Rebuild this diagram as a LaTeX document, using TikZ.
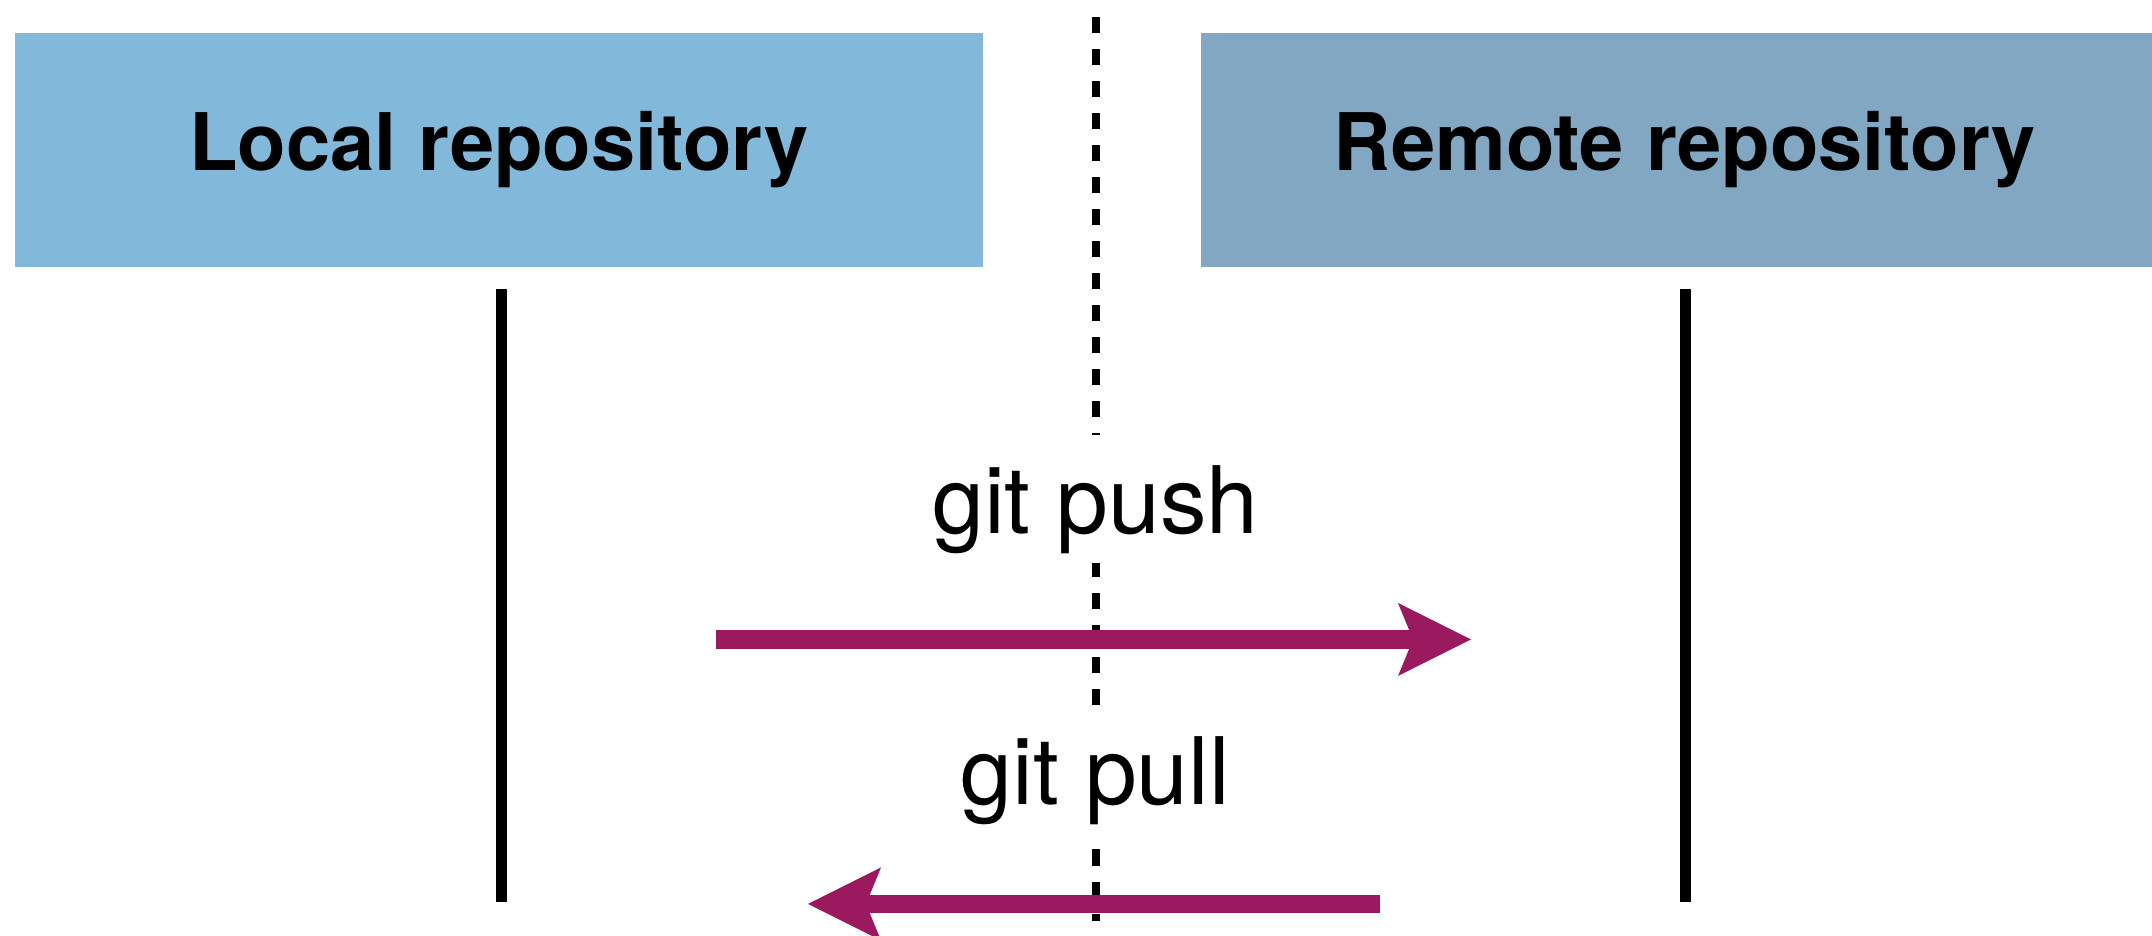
\documentclass[tikz,border=0pt]{standalone}
\usepackage{fontspec}
\setmainfont{TeX Gyre Heros}
\usetikzlibrary{arrows.meta}
\definecolor{localblue}{RGB}{130,185,219}
\definecolor{remoteblue}{RGB}{129,167,194}
\definecolor{gitmagenta}{RGB}{155,25,94}

\begin{document}
\begin{tikzpicture}[repo/.style={fill=#1, minimum width=9.68cm, minimum height=2.34cm, inner sep=0pt, font=\fontsize{22.6}{27}\selectfont\bfseries},
    lifeline/.style={line width=0.11cm},
    cmd/.style={fill=white, anchor=base, inner xsep=0.2cm, inner ysep=0pt, text height=0.99cm, text depth=0.29cm, font=\fontsize{26.5}{30}\selectfont},
    msg/.style={gitmagenta, line width=0.185cm, -{Stealth[length=0.73cm, width=0.73cm, inset=0.15cm, line width=0pt]}}]
    \useasboundingbox (0,0) rectangle (21.52,9.36);
    \clip (0,0) rectangle (21.52,9.36);

    \node[repo=localblue] (local) at (4.99,7.86) {Local repository};
    \node[repo=remoteblue] (remote) at (16.85,7.86) {Remote repository};

    \coordinate (localtop) at (5.01,6.47);
    \coordinate (localbot) at (5.01,0.34);
    \coordinate (remotetop) at (16.85,6.47);
    \coordinate (remotebot) at (16.85,0.34);
    \coordinate (bordertop) at (10.955,9.185);
    \coordinate (borderbot) at (10.955,0.15);

    \draw[lifeline] (localtop)--(localbot);
    \draw[lifeline] (remotetop)--(remotebot);
    \draw[line width=0.08cm, dash pattern=on 0.16cm off 0.16cm] (bordertop)--(borderbot);

    \node[cmd] (push) at (10.955,4.02) {git push};
    \node[cmd] (pull) at (10.955,1.31) {git pull};

    \coordinate (pushfrom) at (7.16,2.965);
    \coordinate (pushto) at (14.71,2.965);
    \coordinate (pullfrom) at (13.795,0.32);
    \coordinate (pullto) at (8.08,0.32);

    \draw[msg] (pushfrom)--(pushto);
    \draw[msg] (pullfrom)--(pullto);
\end{tikzpicture}
\end{document}
